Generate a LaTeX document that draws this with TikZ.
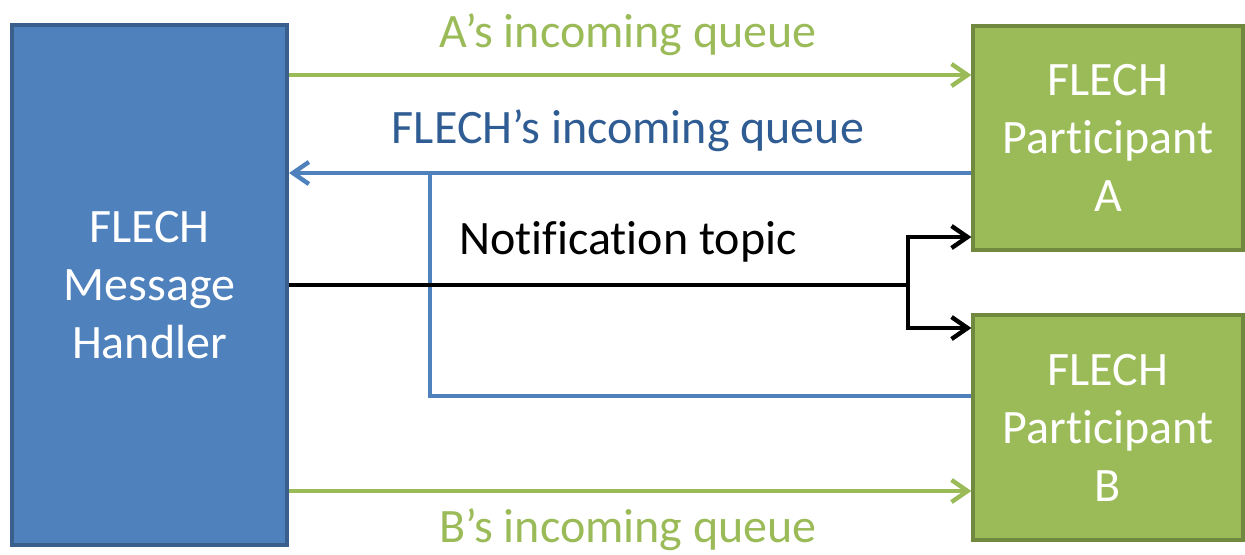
\documentclass[tikz,border=0pt]{standalone}
\usepackage{fontspec}
\setmainfont[Ligatures=NoCommon]{Carlito}
\usetikzlibrary{arrows.meta}
\definecolor{hblue}{HTML}{4F81BD}
\definecolor{hbluedk}{HTML}{3A5F8C}
\definecolor{hgreen}{HTML}{9BBB59}
\definecolor{hgreendk}{HTML}{71893F}
\definecolor{tblue}{HTML}{2F5D93}
\tikzset{
  bluebox/.style={draw=hbluedk, fill=hblue, line width=2pt, text=white, align=center, font=\fontsize{24}{29}\selectfont, inner sep=0pt},
  greenbox/.style={draw=hgreendk, fill=hgreen, line width=1.6pt, text=white, align=center, font=\fontsize{24}{29}\selectfont, inner sep=0pt},
  lbl/.style={font=\fontsize{24}{28}\selectfont, inner sep=0pt},
  tip/.style={-{Straight Barb[length=8pt,width=11pt,line width=2.2pt]}},
  conn/.style={line width=2pt},
}
\begin{document}
\begin{tikzpicture}[x=0.5pt,y=-0.5pt]
\useasboundingbox (0,0) rectangle (1245,554);
\node[bluebox, minimum width=137.5pt, minimum height=260pt] (mh) at (149.5,285) {FLECH\\Message\\Handler};
\node[greenbox, minimum width=135pt, minimum height=112pt] (pa) at (1108,138) {FLECH\\Participant\\A};
\node[greenbox, minimum width=135pt, minimum height=112.5pt] (pb) at (1108,427.5) {FLECH\\Participant\\B};
% coordinates
\coordinate (ga1) at (mh.east |- 0,75);
\coordinate (ga2) at (pa.west |- 0,75);
\coordinate (bl1) at (pa.west |- 0,173);
\coordinate (bl2) at (mh.east |- 0,173);
\coordinate (blj) at (430,173);
\coordinate (blc) at (430,396);
\coordinate (bl3) at (pb.west |- 0,396);
\coordinate (k1) at (mh.east |- 0,285);
\coordinate (kj) at (908,285);
\coordinate (kt) at (908,237);
\coordinate (kb) at (908,328);
\coordinate (ka) at (pa.west |- 0,237);
\coordinate (kbb) at (pb.west |- 0,328);
\coordinate (gb1) at (mh.east |- 0,491);
\coordinate (gb2) at (pb.west |- 0,491);
% connectors
\draw[conn, hgreen, tip] (ga1) -- (ga2);
\draw[conn, hblue, tip] (bl1) -- (bl2);
\draw[conn, hblue, line join=miter] (blj) -- (blc) -- (bl3);
\draw[conn, black] (k1) -- (kj);
\draw[conn, black, tip] (kj) -- (kt) -- (ka);
\draw[conn, black, tip] (kj) -- (kb) -- (kbb);
\draw[conn, hgreen, tip] (gb1) -- (gb2);
% labels
\node[lbl, text=hgreen] (la) at (628,35) {A’s incoming queue};
\node[lbl, text=tblue] (lf) at (628,131) {FLECH’s incoming queue};
\node[lbl, text=black] (ln) at (628,242) {Notification topic};
\node[lbl, text=hgreen] (lb) at (628,530) {B’s incoming queue};
\end{tikzpicture}
\end{document}
